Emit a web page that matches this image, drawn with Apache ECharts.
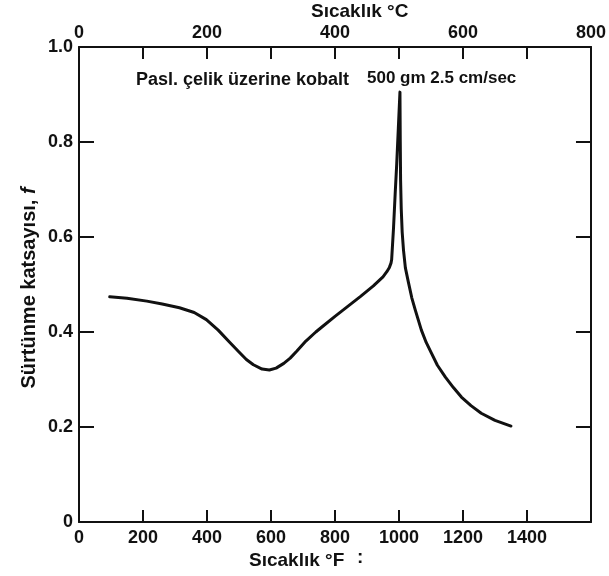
<!DOCTYPE html>
<html><head><meta charset="utf-8">
<script src="https://cdn.jsdelivr.net/npm/echarts@6/dist/echarts.min.js"></script>
<style>html,body{margin:0;padding:0;background:#fff}#c{width:609px;height:576px}</style>
</head><body><div id="c"></div>
<script>
// Temperature in °F and friction coefficient f (cobalt on stainless steel)
const tempF = [96, 150, 212, 260, 314, 360, 398, 435, 470, 500, 523, 545, 572, 595, 616, 640, 660, 681, 709, 740,
  760, 800, 840, 880, 920, 950, 962, 970, 975, 977, 983, 988, 993, 998, 1001, 1003,
  1004, 1005, 1007, 1010, 1014, 1020, 1030, 1040, 1051, 1070, 1085, 1101, 1120, 1145, 1170, 1195, 1225, 1257, 1300, 1350];
const friction = [0.474, 0.471, 0.465, 0.459, 0.451, 0.441, 0.426, 0.404, 0.379, 0.358, 0.342, 0.331, 0.322, 0.320, 0.324, 0.334, 0.345, 0.360, 0.381, 0.400,
  0.411, 0.433, 0.454, 0.475, 0.497, 0.516, 0.527, 0.536, 0.545, 0.552, 0.620, 0.690, 0.755, 0.830, 0.875, 0.905,
  0.800, 0.720, 0.660, 0.610, 0.573, 0.535, 0.503, 0.472, 0.446, 0.404, 0.378, 0.356, 0.330, 0.305, 0.283, 0.263, 0.245, 0.229, 0.214, 0.202];
const bottomTicks = [0, 200, 400, 600, 800, 1000, 1200, 1400];
const topTickLabels = [0, 200, 400, 600, 800];
const yTickLabels = ['0', '0.2', '0.4', '0.6', '0.8', '1.0'];

const data = tempF.map((t, i) => [t, friction[i]]);
const font = 'Liberation Sans, Arial, sans-serif';
const lab = { color: '#111', fontFamily: font, fontSize: 18, fontWeight: 'bold' };
const axLine = { show: true, onZero: false, lineStyle: { color: '#111', width: 2 } };
const tick = len => ({ inside: true, length: len, lineStyle: { color: '#111', width: 2 } });

const chart = echarts.init(document.getElementById('c'));
chart.setOption({
  animation: false,
  grid: { left: 79, right: 16, top: 47, bottom: 54 },
  xAxis: [
    { type: 'value', position: 'bottom', min: 0, max: 1600, interval: 200,
      axisLine: axLine, splitLine: { show: false }, axisTick: tick(12),
      axisLabel: Object.assign({}, lab, { margin: 7, formatter: v => bottomTicks.includes(v) ? String(v) : '' }) },
    { type: 'value', position: 'top', min: 0, max: 800, interval: 100,
      axisLine: axLine, splitLine: { show: false }, axisTick: tick(12),
      axisLabel: Object.assign({}, lab, { margin: 5, formatter: v => topTickLabels.includes(v) ? String(v) : '' }) }
  ],
  yAxis: [
    { type: 'value', position: 'left', min: 0, max: 1, interval: 0.2,
      axisLine: axLine, splitLine: { show: false }, axisTick: tick(15),
      axisLabel: Object.assign({}, lab, { margin: 6, formatter: v => yTickLabels[Math.round(v * 5)] }) },
    { type: 'value', position: 'right', min: 0, max: 1, interval: 0.2,
      axisLine: axLine, splitLine: { show: false }, axisTick: tick(15),
      axisLabel: { show: false } }
  ],
  series: [{
    type: 'line', data: data, xAxisIndex: 0, yAxisIndex: 0,
    smooth: false, showSymbol: false,
    lineStyle: { color: '#111', width: 3, join: 'round', cap: 'round' }
  }],
  graphic: [
    { type: 'text', x: 311, y: 12, style: { text: 'Sıcaklık °C', font: 'bold 19px ' + font, fill: '#111', verticalAlign: 'middle' } },
    { type: 'text', x: 249, y: 561, style: { text: 'Sıcaklık °F', font: 'bold 19px ' + font, fill: '#111', verticalAlign: 'middle' } },
    { type: 'text', x: 357, y: 558, style: { text: ':', font: 'bold 19px ' + font, fill: '#111', verticalAlign: 'middle' } },
    { type: 'text', x: 136, y: 80, style: { text: 'Pasl. çelik üzerine kobalt', font: 'bold 18px ' + font, fill: '#111', verticalAlign: 'middle' } },
    { type: 'text', x: 367, y: 78, style: { text: '500 gm 2.5 cm/sec', font: 'bold 17px ' + font, fill: '#111', verticalAlign: 'middle' } },
    { type: 'text', x: 29, y: 288, rotation: Math.PI / 2,
      style: { text: 'Sürtünme katsayısı, {i|f}', font: 'bold 20px ' + font, fill: '#111', align: 'center', verticalAlign: 'middle',
        rich: { i: { fontStyle: 'italic', fontWeight: 'bold', fontSize: 20, fontFamily: font, fill: '#111' } } } }
  ]
});
</script></body></html>
